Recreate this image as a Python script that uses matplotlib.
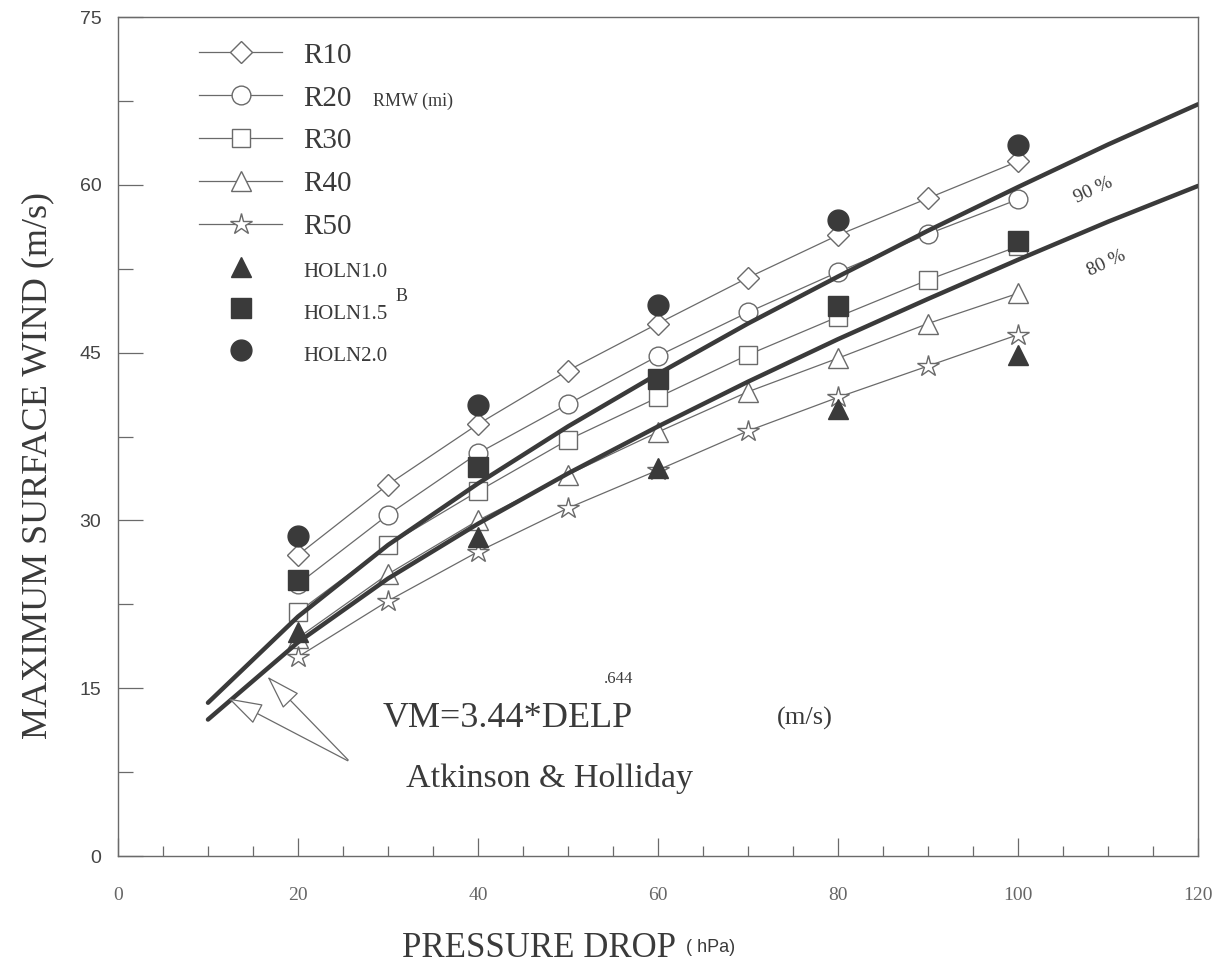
import numpy as np
import matplotlib
matplotlib.use('Agg')
import matplotlib.pyplot as plt
from matplotlib.lines import Line2D

# pressure drop (hPa) at which the model runs were done
delp = [20, 30, 40, 50, 60, 70, 80, 90, 100]
# RMW series (open markers, joined by thin lines)
r10 = [26.9, 33.2, 38.6, 43.4, 47.6, 51.7, 55.5, 58.8, 62.1]
r20 = [24.3, 30.5, 36.0, 40.4, 44.7, 48.6, 52.2, 55.6, 58.7]
r30 = [21.8, 27.8, 32.6, 37.2, 41.0, 44.8, 48.2, 51.5, 54.5]
r40 = [19.5, 25.2, 30.0, 34.1, 37.9, 41.5, 44.5, 47.6, 50.3]
r50 = [17.8, 22.8, 27.2, 31.1, 34.5, 38.0, 41.0, 43.8, 46.6]

# Holland B runs (filled markers, no lines)
holn_delp = [20, 40, 60, 80, 100]
holn10 = [20.0, 28.5, 34.7, 40.0, 44.8]
holn15 = [24.7, 34.8, 42.6, 49.2, 55.0]
holn20 = [28.6, 40.3, 49.3, 56.9, 63.6]

# Atkinson & Holliday curves
curve_delp = [10, 20, 30, 40, 50, 60, 70, 80, 90, 100, 110, 120]
curve90 = [13.7, 21.4, 27.8, 33.3, 38.4, 43.1, 47.6, 51.8, 55.9, 59.8, 63.6, 67.2]
curve80 = [12.2, 19.1, 24.8, 29.7, 34.2, 38.4, 42.4, 46.2, 49.8, 53.3, 56.7, 59.9]

serif = 'Liberation Serif'
ink = '#3a3a3a'
thin = '#6a6a6a'

fig = plt.figure(figsize=(12.15, 9.68), dpi=100)
ax = fig.add_axes([0.0971, 0.1157, 0.8889, 0.8667])

open_series = [('R10', r10, 'D', 11), ('R20', r20, 'o', 13.5),
               ('R30', r30, 's', 12.5), ('R40', r40, '^', 14), ('R50', r50, '*', 16)]
handles = []
for name, vals, mk, ms in open_series:
    ax.plot(delp, vals, color=thin, lw=0.9, marker=mk, ms=ms, mfc='white',
            mec=thin, mew=1.0, zorder=3)
    handles.append(Line2D([], [], color=thin, lw=0.9, marker=mk, ms=ms, mfc='white',
                          mec=thin, mew=1.0, label=name))

ax.plot(curve_delp, curve90, color=ink, lw=3.2, zorder=4, solid_capstyle='round')
ax.plot(curve_delp, curve80, color=ink, lw=3.2, zorder=4, solid_capstyle='round')

filled_series = [('HOLN1.0', holn10, '^', 15), ('HOLN1.5', holn15, 's', 14),
                 ('HOLN2.0', holn20, 'o', 15)]
for name, vals, mk, ms in filled_series:
    ax.plot(holn_delp, vals, ls='none', marker=mk, ms=ms, color=ink, mec=ink, zorder=5)
    handles.append(Line2D([], [], ls='none', marker=mk, ms=ms, color=ink, mec=ink, label=name))

leg = ax.legend(handles=handles, loc='upper left', bbox_to_anchor=(0.06, 0.99),
                frameon=False, prop={'family': serif, 'size': 17},
                handlelength=3.5, handleheight=1.3, labelspacing=0.68,
                handletextpad=0.9, borderpad=0.2)
for t in leg.get_texts():
    t.set_fontsize(15 if t.get_text().startswith('HOLN') else 21)
    t.set_color(ink)

ax.text(28.3, 67.5, 'RMW (mi)', family=serif, fontsize=13, color=ink, va='center')
ax.text(30.8, 50.0, 'B', family=serif, fontsize=13, color=ink, va='center')

# percentile labels along the curves
ax.text(108.4, 59.5, '90 %', family=serif, fontsize=14, color=ink, rotation=25,
        ha='center', va='center')
ax.text(109.8, 53.0, '80 %', family=serif, fontsize=14, color=ink, rotation=25,
        ha='center', va='center')

# formula and source
ax.text(29.4, 12.3, 'VM=3.44*DELP', family=serif, fontsize=26, color=ink, va='center')
ax.text(54.0, 15.8, '.644', family=serif, fontsize=12, color=ink, va='center')
ax.text(73.2, 12.3, '(m/s)', family=serif, fontsize=19, color=ink, va='center')
ax.text(32.0, 6.9, 'Atkinson & Holliday', family=serif, fontsize=24.5, color=ink, va='center')

arrow = dict(arrowstyle='-|>,head_width=0.7,head_length=2.2', fc='white', ec=thin, lw=0.9)
ax.annotate('', xy=(12.0, 14.2), xytext=(25.8, 8.4), arrowprops=arrow, zorder=6)
ax.annotate('', xy=(16.4, 16.2), xytext=(25.8, 8.4), arrowprops=arrow, zorder=6)

ax.set_xlim(0, 120)
ax.set_ylim(0, 75)
ax.set_xticks(range(0, 121, 20))
ax.set_xticks(range(0, 121, 5), minor=True)
ax.set_yticks(range(0, 76, 15))
ax.set_yticks(np.arange(0, 76, 7.5), minor=True)
ax.tick_params(axis='both', which='both', direction='in', color=thin, width=0.9)
ax.tick_params(axis='y', which='major', length=18, pad=12,
               labelsize=14, labelcolor='#444444')
ax.tick_params(axis='y', which='minor', length=11)
ax.tick_params(axis='x', which='major', length=13, pad=22,
               labelsize=14, labelcolor='#666666')
ax.tick_params(axis='x', which='minor', length=7)
for lab in ax.get_yticklabels():
    lab.set_family('Liberation Sans')
for lab in ax.get_xticklabels():
    lab.set_family(serif)
for sp in ax.spines.values():
    sp.set_color(thin)
    sp.set_linewidth(1.0)

ax.set_ylabel('MAXIMUM SURFACE WIND (m/s)', family=serif, fontsize=26, color=ink,
              va='center')
ax.yaxis.set_label_coords(-0.074, 0.466)
ax.set_xlabel('PRESSURE DROP', family=serif, fontsize=25, color=ink, va='center')
ax.xaxis.set_label_coords(0.39, -0.11)
fig.text(0.565, 0.021, '( hPa)', family='Liberation Sans', fontsize=13,
         color=ink, va='center')

fig.savefig('out.png', dpi=100)
